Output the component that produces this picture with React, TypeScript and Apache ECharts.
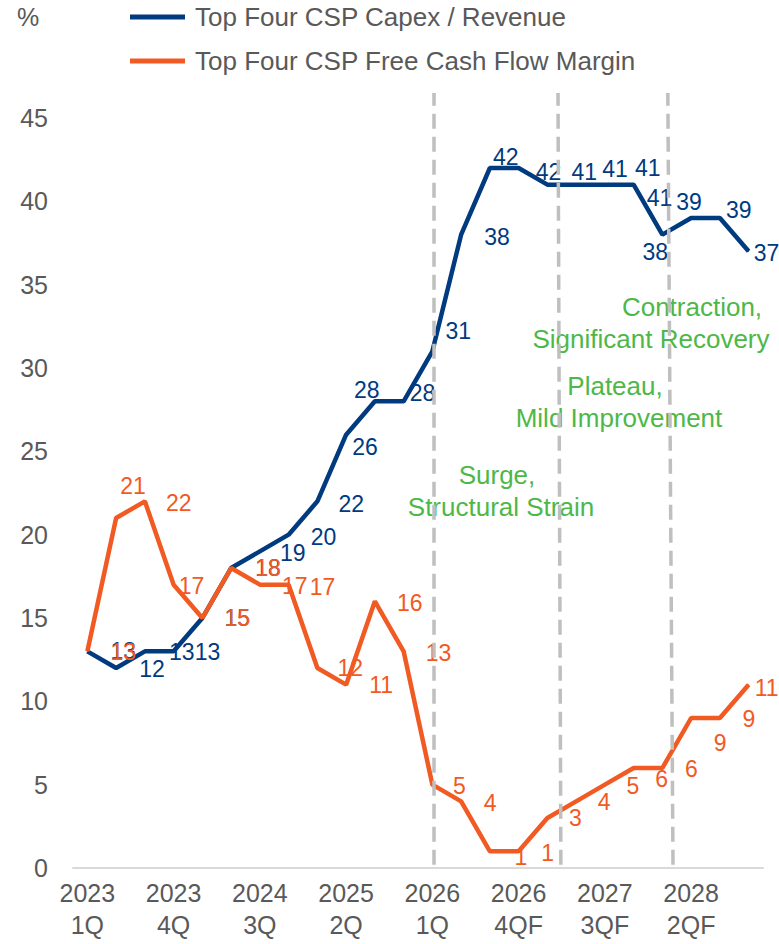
import React, { useEffect, useRef } from "react";
import * as echarts from "echarts";

const categories = [
  "2023\n1Q", "2023\n2Q", "2023\n3Q", "2023\n4Q",
  "2024\n1Q", "2024\n2Q", "2024\n3Q", "2024\n4Q",
  "2025\n1Q", "2025\n2Q", "2025\n3Q", "2025\n4Q",
  "2026\n1Q", "2026\n2QF", "2026\n3QF", "2026\n4QF",
  "2027\n1QF", "2027\n2QF", "2027\n3QF", "2027\n4QF",
  "2028\n1QF", "2028\n2QF", "2028\n3QF", "2028\n4QF",
];

const capexRevenue = [13, 12, 13, 13, 15, 18, 19, 20, 22, 26, 28, 28, 31, 38, 42, 42, 41, 41, 41, 41, 38, 39, 39, 37];
const fcfMargin = [13, 21, 22, 17, 15, 18, 17, 17, 12, 11, 16, 13, 5, 4, 1, 1, 3, 4, 5, 6, 6, 9, 9, 11];

const seriesNames = ["Top Four CSP Capex / Revenue", "Top Four CSP Free Cash Flow Margin"];

// phase boundaries (fractional category positions: bottom, top)
const phaseBoundaries = [
  [12.05, 12.05],
  [16.47, 16.37],
  [20.37, 20.19],
];

const phaseNotes = [
  { lines: ["Contraction,", "Significant Recovery"], centers: [692, 651], y: 307 },
  { lines: ["Plateau,", "Mild Improvement"], centers: [615, 619], y: 386 },
  { lines: ["Surge,", "Structural Strain"], centers: [497, 501], y: 475 },
];

// label offsets (styling) relative to each point
const capexLabelOffsets = [
  [36, 0], [36, 1], [37, 1], [34, 1], [35, 0], [37, 0], [33, 2], [35, 2],
  [34, 3], [19, 12], [-8, -11], [19, -8], [26, -20], [36, 2], [16, -11], [30, 4],
  [37, -13], [39, -16], [43, -17], [26, 13], [-7, 17], [-2, -16], [19, -8], [18, 2],
];
const fcfLabelOffsets = [
  [36, 1], [17, -32], [34, 2], [18, 1], [35, 0], [37, 0], [35, 1], [34, 2],
  [33, 0], [35, 0], [35, 2], [35, 2], [27, 1], [29, 2], [31, 6], [29, 2],
  [28, 0], [28, 1], [28, 1], [28, 11], [29, 1], [29, 25], [29, 1], [18, 3],
];

const BLUE = "#003A7F";
const ORANGE = "#F15A22";
const GREEN = "#4DB848";
const GRAY_TEXT = "#595959";
const FONT = "'Liberation Sans', Arial, sans-serif";

export default function App() {
  const ref = useRef<HTMLDivElement>(null);

  useEffect(() => {
    if (!ref.current) return;
    const chart = echarts.init(ref.current, undefined, { renderer: "svg" });

    const mkData = (vals: number[], offs: number[][]) =>
      vals.map((v, i) => ({
        value: v,
        label: { offset: offs[i] },
      }));

    const graphicTexts: any[] = [
      {
        type: "text",
        left: 17,
        top: 4,
        style: { text: "%", fontSize: 25, fill: GRAY_TEXT, fontFamily: FONT },
      },
    ];
    phaseNotes.forEach((n) => {
      n.lines.forEach((line, k) => {
        graphicTexts.push({
          type: "text",
          x: n.centers[k],
          y: n.y + k * 32,
          style: {
            text: line,
            fontSize: 26,
            fill: GREEN,
            fontFamily: FONT,
            align: "center",
            verticalAlign: "middle",
          },
        });
      });
    });

    chart.setOption({
      animation: false,
      textStyle: { fontFamily: FONT },
      grid: { left: 73, right: 16, top: 88, bottom: 76, containLabel: false },
      legend: {
        orient: "vertical",
        left: 130,
        top: 2,
        padding: 0,
        itemWidth: 55,
        itemHeight: 5,
        itemGap: 14,
        icon: "rect",
        data: seriesNames,
        textStyle: { fontSize: 26, color: GRAY_TEXT, lineHeight: 30, padding: [0, 0, 0, 5], fontFamily: FONT },
      },
      xAxis: [
        {
          type: "category",
          data: categories,
          boundaryGap: true,
          axisLine: { lineStyle: { color: "#D9D9D9", width: 2 } },
          axisTick: { show: false },
          axisLabel: {
            interval: 2,
            fontSize: 25,
            color: GRAY_TEXT,
            lineHeight: 32,
            margin: 9,
            fontFamily: FONT,
          },
        },
        {
          type: "value",
          min: -0.5,
          max: categories.length - 0.5,
          show: false,
          splitLine: { show: false },
        },
      ],
      yAxis: {
        type: "value",
        min: 0,
        max: 46.8,
        interval: 5,
        axisLine: { show: false },
        axisTick: { show: false },
        splitLine: { show: false },
        axisLabel: {
          showMaxLabel: false,
          fontSize: 25,
          color: GRAY_TEXT,
          margin: 25,
          fontFamily: FONT,
        },
      },
      graphic: graphicTexts,
      series: [
        {
          type: "line",
          xAxisIndex: 1,
          data: [],
          silent: true,
          markLine: {
            silent: true,
            symbol: ["none", "none"],
            label: { show: false },
            lineStyle: { color: "#BFBFBF", width: 3.5, type: [15, 8] },
            data: phaseBoundaries.map((b) => [
              { coord: [b[0], 0.2] },
              { coord: [b[1], 46.5] },
            ]),
          },
        },
        {
          name: seriesNames[0],
          type: "line",
          data: mkData(capexRevenue, capexLabelOffsets),
          color: BLUE,
          symbol: "circle",
          symbolSize: 1,
          showSymbol: true,
          lineStyle: { color: BLUE, width: 4.5 },
          itemStyle: { color: BLUE },
          label: {
            show: true,
            position: "inside",
            fontSize: 23,
            color: BLUE,
            fontFamily: FONT,
          },
          z: 3,
        },
        {
          name: seriesNames[1],
          type: "line",
          data: mkData(fcfMargin, fcfLabelOffsets),
          color: ORANGE,
          symbol: "circle",
          symbolSize: 1,
          showSymbol: true,
          lineStyle: { color: ORANGE, width: 4.5 },
          itemStyle: { color: ORANGE },
          label: {
            show: true,
            position: "inside",
            fontSize: 23,
            color: ORANGE,
            fontFamily: FONT,
          },
          z: 4,
        },
      ],
    });

    return () => chart.dispose();
  }, []);

  return (
    <div
      ref={ref}
      style={{ position: "fixed", left: 0, top: 0, width: 779, height: 944, background: "#fff" }}
    />
  );
}
